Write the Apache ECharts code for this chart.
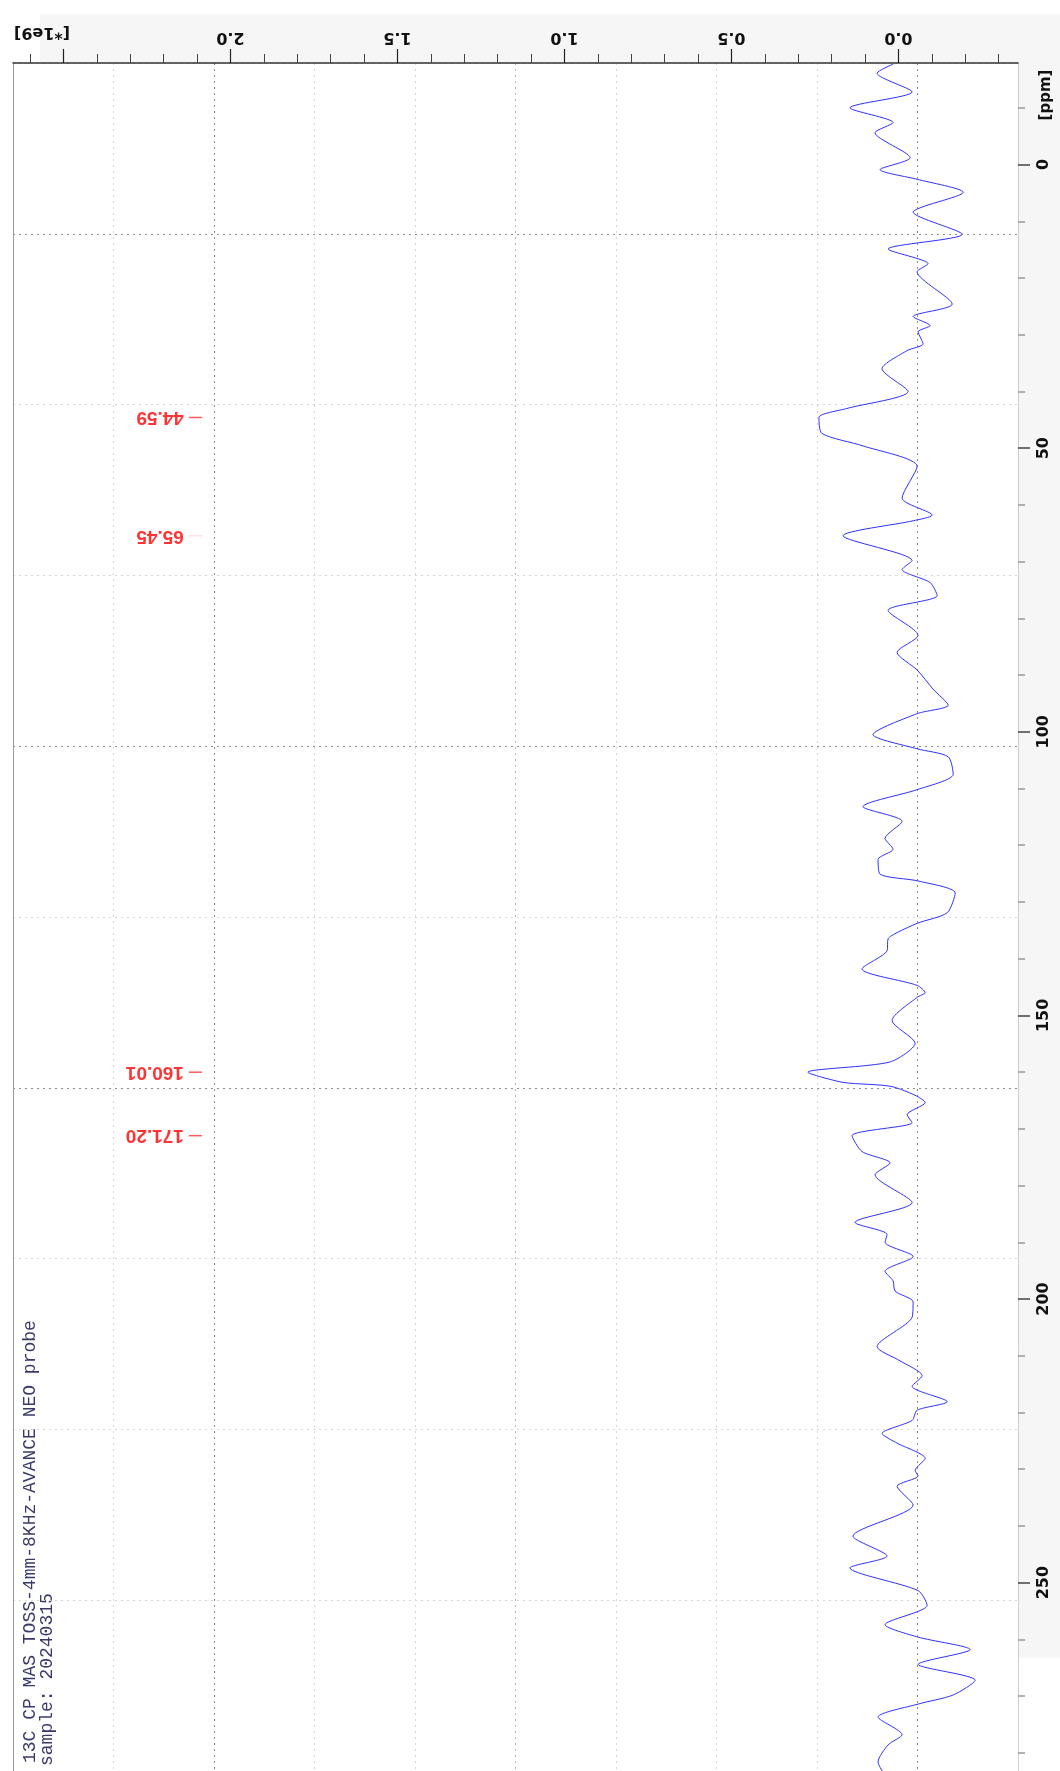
<!DOCTYPE html>
<html>
<head>
<meta charset="utf-8">
<script src="https://cdn.jsdelivr.net/npm/echarts@6/dist/echarts.min.js"></script>
<style>
  html, body { margin: 0; padding: 0; background: #ffffff; }
  #chart { width: 1060px; height: 1771px; }
</style>
</head>
<body>
<div id="chart"></div>
<script>
// 13C CP/MAS TOSS spectrum, plotted with the chemical-shift axis running down the right edge
// and the intensity axis (x 1e9) along the top, growing to the left.

// Chemical shift of each traced point, ppm
const shifts = [
  -17.7, -16.1, -12.8, -10.0, -7.4, -5.6, -1.2, 0.9, 2.6, 4.9, 8.4, 12.3, 14.9, 17.5, 18.9,
  24.6, 26.8, 28.4, 29.5, 31.6, 32.8, 36.0, 40.0, 43.0, 44.59, 47.4, 49.6, 53.2, 58.8, 61.8,
  62.8, 65.45, 69.8, 71.4, 73.7, 76.0, 78.6, 83.0, 86.0, 89.1, 92.5, 95.3, 96.8, 100.5, 103.0,
  104.4, 107.5, 110.2, 113.2, 115.8, 118.8, 120.7, 122.5, 125.1, 126.3, 128.4, 131.9, 133.7, 135.4,
  136.5, 138.6, 141.8, 144.7, 146.0, 146.8, 150.9, 154.9, 158.2, 160.01, 161.8, 162.6, 165.4, 167.5,
  168.9, 171.20, 174.0, 176.0, 178.1, 183.0, 186.5, 188.6, 190.0, 192.5, 195.1, 196.8, 198.6, 200.5,
  203.2, 208.4, 210.9, 213.5, 215.4, 218.1, 219.6, 221.4, 223.7, 225.4, 228.1, 230.2, 231.2, 233.0,
  236.3, 241.8, 245.3, 247.4, 251.4, 254.0, 257.4, 259.6, 261.8, 264.4, 267.2, 269.8, 271.4, 273.7,
  276.8, 278.6, 281.6, 284.0
];

// Intensity at each shift, in units of 1e9
const intensities = [
  0.016, 0.064, -0.041, 0.145, 0.016, 0.070, -0.035, 0.055, -0.056, -0.194, -0.044, -0.191, 0.031, -0.089, -0.056,
  -0.161, -0.044, -0.095, -0.059, -0.074, -0.026, 0.049, -0.029, 0.154, 0.238, 0.229, 0.106, -0.056, -0.011, -0.101,
  -0.044, 0.166, -0.041, -0.011, -0.095, -0.116, 0.031, -0.059, 0.004, -0.056, -0.104, -0.149, -0.056, 0.076, -0.056,
  -0.149, -0.164, -0.056, 0.106, -0.011, 0.040, 0.016, 0.061, 0.055, -0.059, -0.170, -0.146, -0.059, 0.004,
  0.031, 0.034, 0.109, -0.056, -0.080, -0.056, 0.019, -0.050, 0.025, 0.271, 0.166, 0.016, -0.080, -0.026,
  -0.041, 0.139, 0.109, 0.025, 0.070, -0.041, 0.130, 0.034, 0.040, -0.044, 0.040, 0.016, 0.010, -0.044,
  -0.041, 0.064, -0.005, -0.071, -0.041, -0.146, -0.056, -0.041, 0.049, 0.004, -0.080, -0.050, -0.059, 0.004,
  -0.044, 0.136, 0.034, 0.145, -0.059, -0.086, 0.040, -0.059, -0.215, -0.059, -0.230, -0.164, -0.059, 0.061,
  -0.011, 0.031, 0.061, 0.040
];

// Picked peaks, ppm
const peakShifts = [44.59, 65.45, 160.01, 171.20];
// Intensity position of the peak-pick dashes (x 1e9)
const peakMarkLevel = [2.105];

// Axis ticks
const intensityTicks = [0, 0.5, 1.0, 1.5, 2.0, 2.5];
const intensityLabels = [0, 0.5, 1.0, 1.5, 2.0];
const intensityMinorTicks = [
  -0.3, -0.2, -0.1, 0.1, 0.2, 0.3, 0.4, 0.6, 0.7, 0.8, 0.9, 1.1, 1.2, 1.3, 1.4,
  1.6, 1.7, 1.8, 1.9, 2.1, 2.2, 2.3, 2.4, 2.6
];
const ppmTicks = [0, 50, 100, 150, 200, 250];
const ppmMinorTicks = [
  -10, 10, 20, 30, 40, 60, 70, 80, 90, 110, 120, 130, 140, 160, 170, 180, 190,
  210, 220, 230, 240, 260, 270, 280
];

const intensityUnit = '[*1e9]';
const ppmUnit = '[ppm]';
const titleLines = ['13C CP MAS TOSS-4mm-8KHz-AVANCE NEO probe', 'sample: 20240315'];

const spectrum = shifts.map((s, i) => [intensities[i], s]);
const peaks = peakShifts.map((s, i) => ({
  value: [peakMarkLevel[0], s],
  itemStyle: { color: i === 1 ? 'rgba(255,60,60,0.2)' : '#ff3030' }
}));

const X_MIN = -0.358, X_MAX = 2.651;
const Y_MIN = -17.9, Y_MAX = 283.2;

const dark = '#8c8c8c', light = '#d6d6d6';
const vGridColors = [light, light, dark, light, light, '#b4b4b4', light, light, light, dark, light];
const hGridColors = [light, dark, light, light, dark, light, dark, light, light, light, light];

const labelFont = { fontFamily: 'DejaVu Sans', fontWeight: 'bold', fontSize: 16, color: '#111' };

const chart = echarts.init(document.getElementById('chart'), null, { renderer: 'canvas' });

chart.setOption({
  backgroundColor: '#ffffff',
  animation: false,
  grid: {
    left: 13, top: 63, width: 1005, height: 1715,
    show: true, backgroundColor: '#ffffff', borderWidth: 0
  },
  xAxis: [
    {
      type: 'value', position: 'top', inverse: true, min: X_MIN, max: X_MAX,
      axisLine: { show: true, onZero: false, lineStyle: { color: '#333', width: 1.5 } },
      axisTick: { show: true, customValues: intensityTicks, length: 14, lineStyle: { color: '#222', width: 1.2 } },
      axisLabel: Object.assign({
        show: true, customValues: intensityLabels, rotate: 180, margin: 18,
        formatter: v => Number(v).toFixed(1)
      }, labelFont),
      splitLine: { show: false }
    },
    {
      type: 'value', position: 'top', inverse: true, min: X_MIN, max: X_MAX,
      axisLine: { show: false, onZero: false },
      axisTick: { show: true, customValues: intensityMinorTicks, length: 9, lineStyle: { color: '#444', width: 1 } },
      axisLabel: { show: false },
      splitLine: { show: false }
    },
    {
      type: 'value', position: 'bottom', min: 0, max: 10, interval: 1,
      axisLine: { show: false, onZero: false },
      axisTick: { show: false },
      axisLabel: { show: false },
      splitLine: { show: true, lineStyle: { color: vGridColors, type: [2, 4], width: 1 } }
    }
  ],
  yAxis: [
    {
      type: 'value', position: 'right', inverse: true, min: Y_MIN, max: Y_MAX,
      axisLine: { show: true, onZero: false, lineStyle: { color: '#cfcfcf', width: 1 } },
      axisTick: { show: true, customValues: ppmTicks, length: 12, lineStyle: { color: '#444', width: 1.5 } },
      axisLabel: Object.assign({ show: true, customValues: ppmTicks, rotate: 90, margin: 18 }, labelFont),
      splitLine: { show: false }
    },
    {
      type: 'value', position: 'right', inverse: true, min: Y_MIN, max: Y_MAX,
      axisLine: { show: false, onZero: false },
      axisTick: { show: true, customValues: ppmMinorTicks, length: 7, lineStyle: { color: '#999', width: 1.5 } },
      axisLabel: { show: false },
      splitLine: { show: false }
    },
    {
      type: 'value', position: 'left', inverse: true, min: 0, max: 10, interval: 1,
      axisLine: { show: true, onZero: false, lineStyle: { color: '#9a9a9a', width: 1 } },
      axisTick: { show: false },
      axisLabel: { show: false },
      splitLine: { show: true, lineStyle: { color: hGridColors, type: [2, 4], width: 1 } }
    }
  ],
  series: [
    {
      name: 'spectrum',
      type: 'line',
      xAxisIndex: 0, yAxisIndex: 0,
      data: spectrum,
      showSymbol: false,
      smooth: 0.25,
      lineStyle: { color: '#3030ff', width: 1 },
      z: 5
    },
    {
      name: 'peaks',
      type: 'scatter',
      xAxisIndex: 0, yAxisIndex: 0,
      data: peaks,
      symbol: 'rect',
      symbolSize: [13, 1.5],
      label: {
        show: true, position: 'left', distance: 5, align: 'left', verticalAlign: 'middle',
        rotate: 180, color: '#ff0000', fontFamily: 'Liberation Sans', fontWeight: 'bold', fontSize: 19,
        formatter: p => p.value[1].toFixed(2)
      },
      z: 6
    }
  ],
  graphic: [
    { type: 'rect', z: -10, shape: { x: 40, y: 14, width: 1020, height: 49 }, style: { fill: '#f6f6f6' } },
    { type: 'rect', z: -10, shape: { x: 1019, y: 14, width: 41, height: 1644 }, style: { fill: '#f6f6f6' } },
    {
      type: 'text', x: 42, y: 32, rotation: Math.PI,
      style: { text: intensityUnit, font: 'bold 16px "DejaVu Sans"', fill: '#111', textAlign: 'center', textVerticalAlign: 'middle' }
    },
    {
      type: 'text', x: 1046, y: 95, rotation: Math.PI / 2,
      style: { text: ppmUnit, font: 'bold 15px "DejaVu Sans"', fill: '#111', textAlign: 'center', textVerticalAlign: 'middle' }
    },
    {
      type: 'text', x: 30, y: 1763, rotation: Math.PI / 2,
      style: { text: titleLines[0], font: '18px "Liberation Mono"', fill: '#3a3a6a', textAlign: 'left', textVerticalAlign: 'middle' }
    },
    {
      type: 'text', x: 47, y: 1766, rotation: Math.PI / 2,
      style: { text: titleLines[1], font: '18px "Liberation Mono"', fill: '#3a3a6a', textAlign: 'left', textVerticalAlign: 'middle' }
    }
  ]
});
</script>
</body>
</html>
